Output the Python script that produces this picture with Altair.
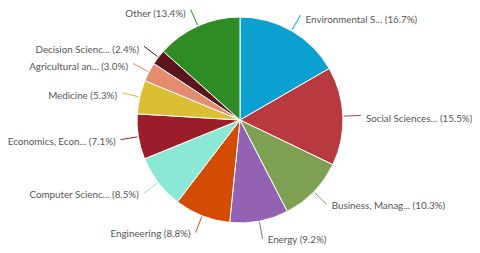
import altair as alt
import pandas as pd

cats = ["Environmental S...", "Social Sciences...", "Business, Manag...", "Energy",
        "Engineering", "Computer Scienc...", "Economics, Econ...", "Medicine",
        "Agricultural an...", "Decision Scienc...", "Other"]
vals = [16.7, 15.5, 10.3, 9.2, 8.8, 8.5, 7.1, 5.3, 3.0, 2.4, 13.4]
colors = ["#0aa0cf", "#b8393f", "#7ea052", "#9462b3", "#d44c04", "#8be8d4",
          "#9c1d2a", "#dbbe33", "#e48c6e", "#5b1419", "#2f8b24"]

df = pd.DataFrame({"cat": cats, "value": vals, "order": list(range(len(cats)))})

CX, CY, R, RE = 232, 112, 103, 121

base = alt.Chart(df).transform_joinaggregate(
    total="sum(value)"
).transform_window(
    cum="sum(value)", sort=[alt.SortField("order")], frame=[None, 0]
).transform_calculate(
    mid="(datum.cum - datum.value/2)/datum.total*2*PI",
    s="sin(datum.mid)",
    c="cos(datum.mid)",
    x1=f"{CX}+{R+1}*datum.s",
    y1=f"{CY}-{R+1}*datum.c",
    x2=f"{CX}+{RE}*datum.s",
    y2=f"{CY}-{RE}*datum.c",
    ty="datum.y2 + 3 + 2*datum.c",
    label="datum.cat + ' (' + format(datum.value, '.1f') + '%)'",
)

color = alt.Color("cat:N", scale=alt.Scale(domain=cats, range=colors), legend=None)

arc = alt.Chart(df).mark_arc(outerRadius=R, stroke="white", strokeWidth=1).encode(
    theta=alt.Theta("value:Q", stack=True),
    order=alt.Order("order:Q"),
    color=color,
    x=alt.value(CX),
    y=alt.value(CY),
)

rules = base.mark_rule(strokeWidth=1).encode(
    x=alt.X("x1:Q", scale=None),
    y=alt.Y("y1:Q", scale=None),
    x2="x2:Q",
    y2="y2:Q",
    color=color,
)

FONT = dict(font="Lato", fontSize=9.8, color="#555555", baseline="middle")

text_r = base.transform_filter("datum.s >= 0").transform_calculate(
    tx="datum.x2 + 5"
).mark_text(align="left", **FONT).encode(
    x=alt.X("tx:Q", scale=None), y=alt.Y("ty:Q", scale=None), text="label:N"
)

text_l = base.transform_filter("datum.s < 0").transform_calculate(
    tx="datum.x2 - 5"
).mark_text(align="right", **FONT).encode(
    x=alt.X("tx:Q", scale=None), y=alt.Y("ty:Q", scale=None), text="label:N"
)

chart = alt.layer(arc, rules, text_r, text_l).properties(
    width=464, height=237, padding=0, autosize=alt.AutoSizeParams(type="none")
).configure_view(stroke=None)

chart.save("out.html", embed_options={"renderer": "svg", "actions": False})
